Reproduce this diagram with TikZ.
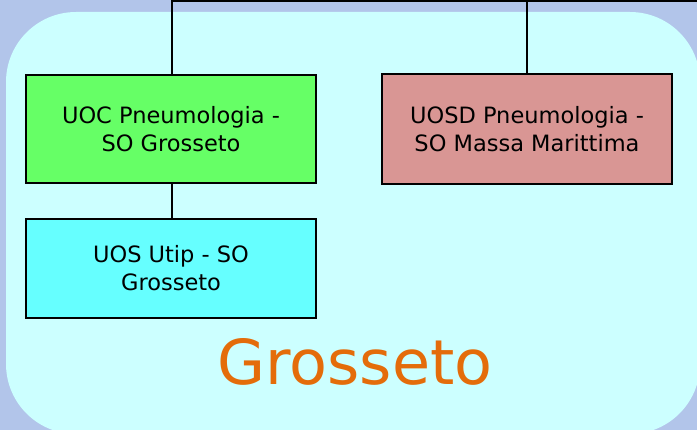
\documentclass[tikz,border=0pt]{standalone}
\usepackage{fontspec}
\setmainfont{DejaVu Sans}
\definecolor{bgblue}{HTML}{B2C5EA}
\definecolor{panel}{HTML}{CCFFFF}
\definecolor{gfill}{HTML}{66FF66}
\definecolor{cfill}{HTML}{66FFFF}
\definecolor{rfill}{HTML}{D99694}
\definecolor{orng}{HTML}{E46C0A}
\begin{document}
\begin{tikzpicture}[x=1pt,y=-1pt,
  unitbox/.style={draw=black,line width=1.4pt,minimum width=290pt,inner sep=0pt,align=center,
    font=\fontsize{22.5}{28}\selectfont},
  link/.style={draw=black,line width=1.3pt}]
\useasboundingbox (0,0) rectangle (697,430);
\fill[bgblue] (0,0) rectangle (697,430);
\begin{scope}
\clip (0,0) rectangle (697,430);
\fill[panel] (6,364) -- (6,82) arc[start angle=180,end angle=270,radius=70]
  -- (630,12) arc[start angle=270,end angle=360,radius=70]
  -- (700,364) arc[start angle=0,end angle=90,radius=70]
  -- (76,434) arc[start angle=90,end angle=180,radius=70] -- cycle;
\end{scope}
\node[unitbox,fill=gfill,minimum height=108pt] (g) at (171,129) {UOC Pneumologia -\\SO Grosseto};
\node[unitbox,fill=rfill,minimum height=110pt] (r) at (527,129) {UOSD Pneumologia -\\SO Massa Marittima};
\node[unitbox,fill=cfill,minimum height=99pt] (c) at (171,268.5) {UOS Utip - SO\\Grosseto};
\node[text=orng,font=\fontsize{62}{70}\selectfont] (t) at (355,362) {Grosseto};
\coordinate (top) at (172,1);
\coordinate (topR) at (698,1);
\draw[link] (g.north -| top) -- (top) -- (topR);
\draw[link] (r.north) -- (r.north |- top);
\draw[link] (g.south -| top) -- (c.north -| top);
\end{tikzpicture}
\end{document}
